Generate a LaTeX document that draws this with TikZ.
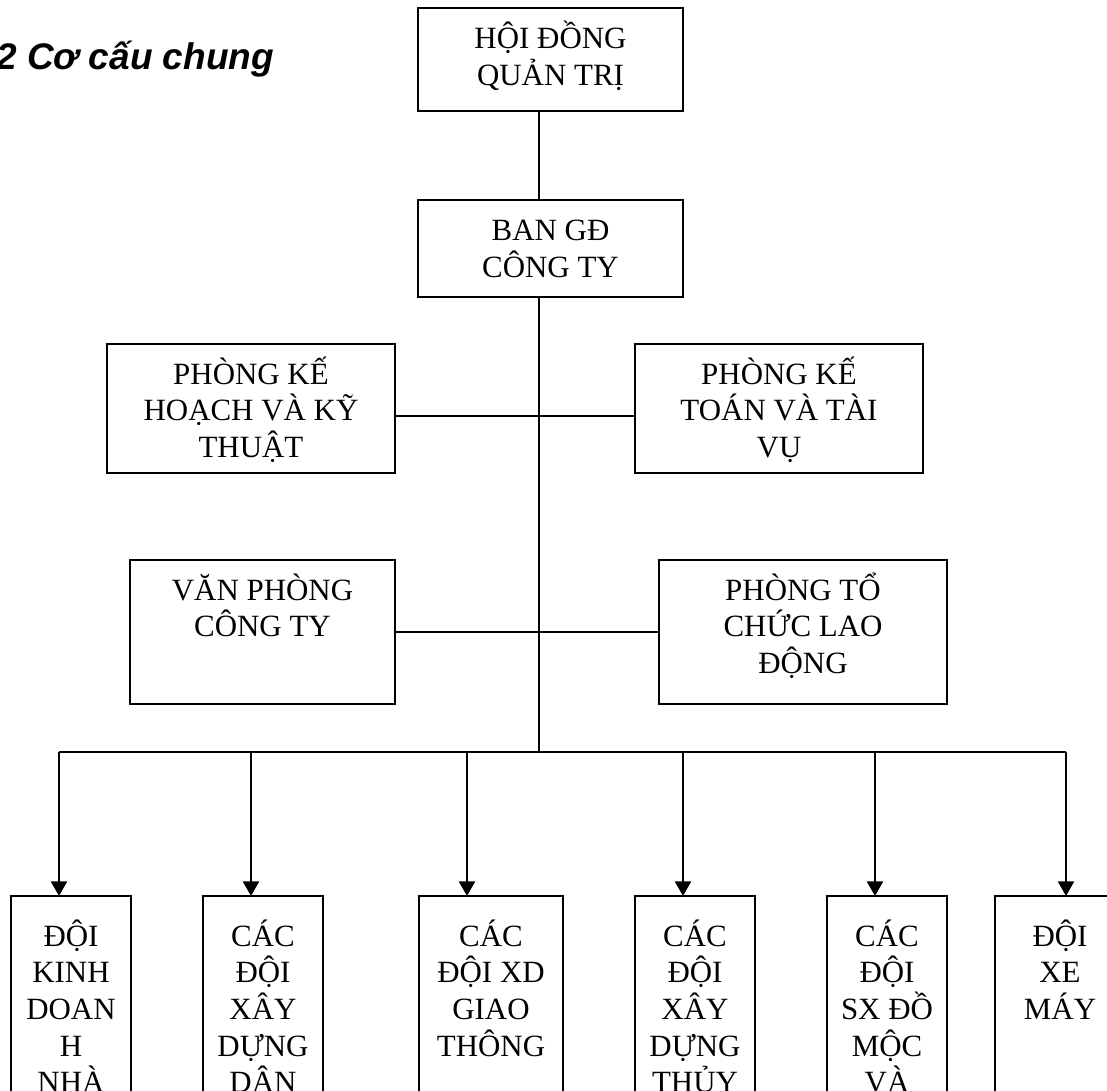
\documentclass[tikz,border=0pt]{standalone}
\usepackage{fontspec}
\setmainfont{Liberation Serif}
\newfontfamily\headfont{Liberation Sans}
\usetikzlibrary{arrows.meta}

% one screen pixel
\newdimen\px \px=0.75pt
% box body: width, height, distance from top edge to first baseline, lines
\newcommand{\boxtext}[4]{\parbox[t][#2][t]{#1}{\centering\rule{0pt}{#3}#4}}

\begin{document}
\begin{tikzpicture}[x=0.75pt,y=-0.75pt,
  unit/.style={draw, line width=1.2pt, inner sep=0pt, outer sep=0pt, anchor=north west,
               font=\fontsize{23.2pt}{27.5pt}\selectfont},
  link/.style={line width=1.2pt},
  trunk/.style={line width=1.5pt},
  feed/.style={line width=1.8pt, -{Triangle[width=12pt,length=11pt]}}]

\useasboundingbox (0,0) rectangle (1107,1091);
\clip (0,0) rectangle (1107,1091);

% heading
\node[anchor=base west, inner sep=0pt, font=\headfont\bfseries\itshape\fontsize{27.75pt}{33pt}\selectfont]
  (title) at (-4,70) {2 Cơ cấu chung};

% management
\node[unit] (hdqt) at (418,8)   {\boxtext{265\px}{103\px}{41\px}{HỘI ĐỒNG\\QUẢN TRỊ}};
\node[unit] (bgd)  at (418,200) {\boxtext{265\px}{97\px}{41\px}{BAN GĐ\\CÔNG TY}};

% departments
\node[unit] (pkh) at (107,344) {\boxtext{288\px}{129\px}{40\px}{PHÒNG KẾ\\HOẠCH VÀ KỸ\\THUẬT}};
\node[unit] (pkt) at (635,344) {\boxtext{288\px}{129\px}{40\px}{PHÒNG KẾ\\TOÁN VÀ TÀI\\VỤ}};
\node[unit] (vp)  at (130,560) {\boxtext{265\px}{144\px}{40\px}{VĂN PHÒNG\\CÔNG TY}};
\node[unit] (ptc) at (659,560) {\boxtext{288\px}{144\px}{40\px}{PHÒNG TỔ\\CHỨC LAO\\ĐỘNG}};

% teams
\node[unit] (d1) at (11,896)  {\boxtext{120\px}{230\px}{50\px}{ĐỘI\\KINH\\DOAN\\H\\NHÀ}};
\node[unit] (d2) at (203,896) {\boxtext{120\px}{230\px}{50\px}{CÁC\\ĐỘI\\XÂY\\DỰNG\\DÂN}};
\node[unit] (d3) at (419,896) {\boxtext{144\px}{230\px}{50\px}{CÁC\\ĐỘI XD\\GIAO\\THÔNG}};
\node[unit] (d4) at (635,896) {\boxtext{120\px}{230\px}{50\px}{CÁC\\ĐỘI\\XÂY\\DỰNG\\THỦY}};
\node[unit] (d5) at (827,896) {\boxtext{120\px}{230\px}{50\px}{CÁC\\ĐỘI\\SX ĐỒ\\MỘC\\VÀ}};
\node[unit] (d6) at (995,896) {\boxtext{130\px}{230\px}{50\px}{ĐỘI\\XE\\MÁY}};

% trunk line and junctions
\coordinate (spine) at (539,752);
\coordinate (r1) at (539,416);
\coordinate (r2) at (539,632);
\coordinate (k1) at (59,752);
\coordinate (k2) at (251,752);
\coordinate (k3) at (467,752);
\coordinate (k4) at (683,752);
\coordinate (k5) at (875,752);
\coordinate (k6) at (1066,752);

\draw[link]  (hdqt.south -| spine) -- (bgd.north -| spine);
\draw[trunk] (bgd.south -| spine) -- (spine);
\draw[link]  (pkh.east |- r1) -- (pkt.west |- r1);
\draw[link]  (vp.east |- r2) -- (ptc.west |- r2);
\draw[trunk] (k1) -- (k6);

\draw[feed] (k1) -- (k1 |- d1.north);
\draw[feed] (k2) -- (k2 |- d2.north);
\draw[feed] (k3) -- (k3 |- d3.north);
\draw[feed] (k4) -- (k4 |- d4.north);
\draw[feed] (k5) -- (k5 |- d5.north);
\draw[feed] (k6) -- (k6 |- d6.north);
\end{tikzpicture}
\end{document}
